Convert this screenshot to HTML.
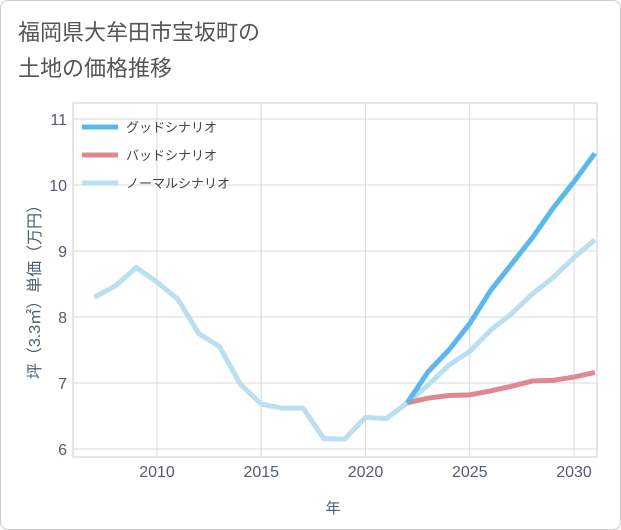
<!DOCTYPE html>
<html><head><meta charset="utf-8"><style>
body{margin:0;background:#fff;font-family:"Liberation Sans","Noto Sans CJK JP",sans-serif}
#card{position:absolute;left:0;top:0;width:619px;height:528px;border:1px solid #ccc;border-radius:8px;background:#fff}
</style></head><body>
<div id="card">
<svg id="chart" width="621" height="530" style="position:absolute;left:-1px;top:-1px">
<text x="18" y="40" font-size="22" fill="#555">福岡県大牟田市宝坂町の</text>
<text x="18" y="76" font-size="22" fill="#555">土地の価格推移</text>
<g id="grid"></g><g id="series"></g><g id="legend"></g>
<text x="333" y="513" font-size="15" fill="#4f5d70" text-anchor="middle">年</text>
<text transform="translate(40,288) rotate(-90)" font-size="16" fill="#4f5d70" text-anchor="middle">坪（3.3㎡）単価（万円）</text>
</svg></div>
<script>
const years=[2007,2008,2009,2010,2011,2012,2013,2014,2015,2016,2017,2018,2019,2020,2021,2022,2023,2024,2025,2026,2027,2028,2029,2030,2031];
const normal=[8.3,8.47,8.75,8.53,8.27,7.75,7.55,6.98,6.68,6.62,6.62,6.16,6.15,6.48,6.46,6.7,6.97,7.27,7.48,7.8,8.05,8.35,8.6,8.9,9.17];
const goodYears=[2022,2023,2024,2025,2026,2027,2028,2029,2030,2031];
const good=[6.7,7.17,7.5,7.9,8.4,8.8,9.2,9.65,10.05,10.48];
const bad=[6.7,6.77,6.81,6.82,6.88,6.95,7.03,7.04,7.09,7.16];
const yTicks=[6,7,8,9,10,11];
const xTicks=[2010,2015,2020,2025,2030];
const L=73,R=597,T=103,B=457;
const x=v=>157+(v-2010)*20.85;
const y=v=>449-(v-6)*66;
const NS='http://www.w3.org/2000/svg';
function mk(p,t,a){const e=document.createElementNS(NS,t);for(const k in a)e.setAttribute(k,a[k]);p.appendChild(e);return e;}
const g=document.getElementById('grid');
mk(g,'rect',{x:L,y:T,width:R-L,height:B-T,fill:'none',stroke:'#ccc'});
yTicks.forEach(v=>{
 const l=mk(g,'line',{x1:L,x2:R,y1:y(v),y2:y(v),stroke:'#d8d8d8'});
 
 
 const t=mk(g,'text',{x:L-6,y:y(v)+6,'font-size':16,fill:'#4f5d70','text-anchor':'end'});t.textContent=v;
 
 
});
xTicks.forEach(v=>{
 const l=mk(g,'line',{x1:x(v),x2:x(v),y1:T,y2:B,stroke:'#d8d8d8'});
 
 
 const t=mk(g,'text',{x:x(v),y:B+20,'font-size':16,fill:'#4f5d70','text-anchor':'middle'});t.textContent=v;
 
 
});
const s=document.getElementById('series');
function line(xs,vs,c,n){const p=mk(s,'polyline',{points:xs.map((yr,i)=>x(yr)+','+y(vs[i])).join(' '),fill:'none',stroke:c,'stroke-width':5,'stroke-linejoin':'round'});
 
 }
line(years,normal,'#b9dff0','normal-scenario-line');
line(goodYears,bad,'#e0888f','bad-scenario-line');
line(goodYears,good,'#5bb8ee','good-scenario-line');
const lg=document.getElementById('legend');
[['グッドシナリオ','#5bb8ee'],['バッドシナリオ','#e0888f'],['ノーマルシナリオ','#b9dff0']].forEach((d,i)=>{
 const yy=127+i*28;
 const l=mk(lg,'line',{x1:82,x2:118,y1:yy,y2:yy,stroke:d[1],'stroke-width':5});
 
 
 const t=mk(lg,'text',{x:126,y:yy+5,'font-size':13,fill:'#444'});t.textContent=d[0];
 
 
});
</script></body></html>
